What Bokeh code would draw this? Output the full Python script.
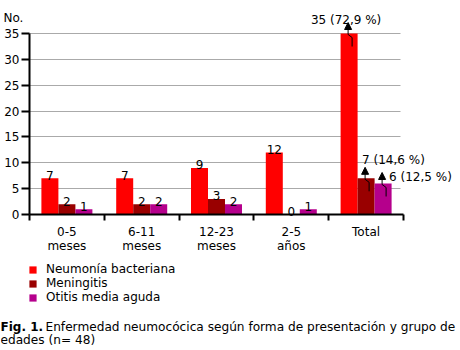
from bokeh.plotting import figure
from bokeh.models import ColumnDataSource, FixedTicker, Label, Arrow, NormalHead
from bokeh.core.properties import value
from bokeh.embed import file_html
from bokeh.resources import INLINE

# ---- data ----
categories = ["0-5\nmeses", "6-11\nmeses", "12-23\nmeses", "2-5\naños", "Total"]
series_names = ["Neumonía bacteriana", "Meningitis", "Otitis media aguda"]
neumonia = [7, 7, 9, 12, 35]
meningitis = [2, 2, 3, 0, 7]
otitis = [1, 2, 2, 1, 6]
total_pct = ["72,9", "14,6", "12,5"]
y_ticks = [0, 5, 10, 15, 20, 25, 30, 35]
y_label = "No."
caption_bold = "Fig. 1."
caption_1 = "Enfermedad neumocócica según forma de presentación y grupo de"
caption_2 = "edades (n= 48)"

# ---- style / geometry ----
colors = ["#ff0000", "#990000", "#b5008c"]
FONT = "DejaVu Sans"
FS = "12px"
FS_CAP = "12.15px"
W, H = 460, 350
X0, Y0 = 29, 214          # pixel position of the data origin
XPX = 74.8                # px per category
YPX = 181 / 35            # px per unit
n = len(categories)
bw = 17 / XPX

p = figure(width=W, height=H,
           x_range=(-X0 / XPX, (W - X0) / XPX),
           y_range=(-(H - Y0) / YPX, Y0 / YPX),
           output_backend="svg", toolbar_location=None,
           min_border=0, min_border_left=0, min_border_right=0,
           min_border_top=0, min_border_bottom=0)
p.outline_line_color = None
p.xgrid.visible = False
p.ygrid.grid_line_color = "#aaaaaa"
p.ygrid.ticker = FixedTicker(ticks=y_ticks)
p.ygrid.cross_bounds = (0, n - 0.04)

# y axis
ya = p.yaxis[0]
ya.fixed_location = 0
ya.ticker = FixedTicker(ticks=y_ticks)
ya.bounds = (0, max(y_ticks))
ya.axis_line_width = 2
ya.major_tick_line_width = 2
ya.major_tick_out = 8
ya.major_tick_in = 0
ya.minor_tick_line_color = None
ya.major_label_standoff = 2
ya.major_label_text_font = FONT
ya.major_label_text_font_size = FS
ya.major_label_text_color = "black"

# x axis: labels at centers, boundary marks as minor ticks
xa = p.xaxis[0]
xa.fixed_location = 0
centers = [i + 0.5 for i in range(n)]
xa.ticker = FixedTicker(ticks=centers, minor_ticks=list(range(n + 1)))
xa.major_label_overrides = {c: lab for c, lab in zip(centers, categories)}
xa.bounds = (0, n)
xa.axis_line_width = 2
xa.major_tick_out = 0
xa.major_tick_in = 0
xa.minor_tick_out = 6
xa.minor_tick_in = 0
xa.minor_tick_line_width = 2
xa.minor_tick_line_color = "black"
xa.major_label_standoff = 4
xa.major_label_text_font = FONT
xa.major_label_text_font_size = FS
xa.major_label_text_line_height = 1.0
xa.major_label_text_color = "black"

series = [neumonia, meningitis, otitis]
tot_dx = [-3, -4, 6]
tot_dy = [14, 18, 6]
tot_align = ["center", "left", "left"]

for k, vals in enumerate(series):
    xs = [i + 0.5 + (k - 1) * bw for i in range(n)]
    src = ColumnDataSource(dict(x=xs, top=vals))
    p.vbar(x="x", top="top", width=bw, source=src, fill_color=colors[k],
           line_color=None, legend_label=series_names[k])
    lab = ColumnDataSource(dict(x=xs[:-1], y=vals[:-1], t=[str(v) for v in vals[:-1]]))
    p.text(x="x", y="y", text="t", source=lab, text_align="center",
           text_baseline="alphabetic", y_offset=-3, text_font=value(FONT),
           text_font_size=FS, text_color="black")
    # total label with arrow
    xt, vt = xs[-1], vals[-1]
    p.text(x=[xt], y=[vt], text=[f"{vt} ({total_pct[k]} %)"], text_align=tot_align[k],
           text_baseline="alphabetic", x_offset=tot_dx[k], y_offset=-tot_dy[k],
           text_font=value(FONT), text_font_size=FS, text_color="black")
    ax = xt - 1 / XPX
    p.add_layout(Arrow(end=NormalHead(size=7, fill_color="black", line_color="black"),
                       x_start=ax, y_start=vt - 1 / YPX, x_end=ax, y_end=vt + 11 / YPX,
                       line_color="black", line_width=1))
    p.line(x=[ax, ax + 4 / XPX, ax + 4 / XPX],
           y=[vt - 1 / YPX, vt - 4 / YPX, vt - 13 / YPX], line_color="black", line_width=1)

leg = p.legend[0]
leg.location = (28, H - 304)
leg.padding = 0
leg.margin = 0
leg.spacing = 0
leg.border_line_color = None
leg.background_fill_alpha = 0
leg.glyph_width = 9
leg.glyph_height = 9
leg.label_height = 14
leg.label_standoff = 9
leg.label_text_font = FONT
leg.label_text_font_size = FS
leg.label_text_color = "black"

p.add_layout(Label(x=3, y=H - 17, x_units="screen", y_units="screen", text=y_label,
                   text_font=FONT, text_font_size=FS, text_color="black",
                   text_baseline="alphabetic"))
p.add_layout(Label(x=0, y=H - 326, x_units="screen", y_units="screen", text=caption_bold,
                   text_font=FONT, text_font_size=FS, text_font_style="bold",
                   text_color="black", text_baseline="alphabetic"))
p.add_layout(Label(x=45, y=H - 326, x_units="screen", y_units="screen", text=caption_1,
                   text_font=FONT, text_font_size=FS_CAP, text_color="black",
                   text_baseline="alphabetic"))
p.add_layout(Label(x=0, y=H - 339, x_units="screen", y_units="screen", text=caption_2,
                   text_font=FONT, text_font_size=FS_CAP, text_color="black",
                   text_baseline="alphabetic"))

open("out.html", "w").write(file_html(p, INLINE))
